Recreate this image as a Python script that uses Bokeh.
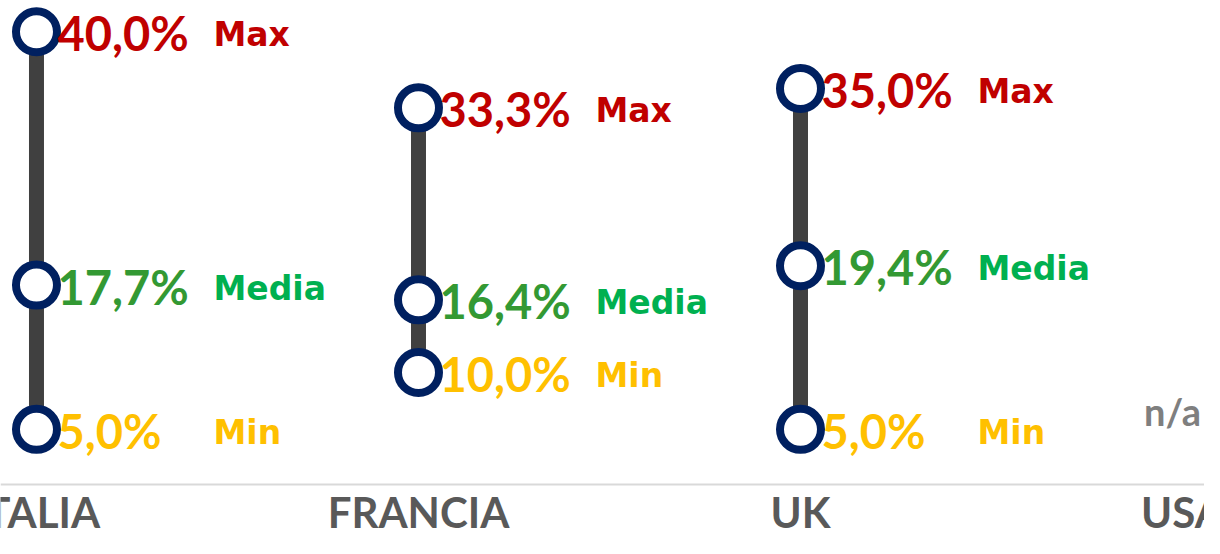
from bokeh.plotting import figure
from bokeh.models import ColumnDataSource, Range1d, Span
from bokeh.core.properties import value
from bokeh.embed import file_html
from bokeh.resources import INLINE

# ---- data ----
categories = ["ITALIA", "FRANCIA", "UK", "USA"]
max_vals = [40.0, 33.3, 35.0, None]
mean_vals = [17.7, 16.4, 19.4, None]
min_vals = [5.0, 10.0, 5.0, None]
series_names = ["Max", "Media", "Min"]
na_label = "n/a"

# ---- styles ----
NAVY = "#002060"
WHISKER = "#404040"
RED = "#C00000"
GREEN_VAL = "#339933"
GREEN_LBL = "#00B050"
YELLOW = "#FFC000"
CAT_COL = "#595959"
NA_COL = "#7F7F7F"
NUM_FONT = value("Lato")
LBL_FONT = value("DejaVu Sans")

W, H = 1204, 538
x_pos = list(range(len(categories)))

p = figure(width=W, height=H, output_backend="svg", toolbar_location=None,
           x_range=Range1d(-0.0942, 3.0576), y_range=Range1d(-4.61, 42.75),
           min_border=0, outline_line_color=None)
p.axis.visible = False
p.grid.visible = False
p.background_fill_color = "white"
p.border_fill_color = "white"

# baseline
p.add_layout(Span(location=0.14, dimension="width", line_color="#D9D9D9", line_width=2))

def fmt(v):
    return f"{v:.1f}".replace(".", ",") + "%"

# whiskers
wx, wlo, whi = [], [], []
for i, (lo, hi) in enumerate(zip(min_vals, max_vals)):
    if lo is not None and hi is not None:
        wx.append(i); wlo.append(lo); whi.append(hi)
p.segment(x0=wx, y0=wlo, x1=wx, y1=whi, line_color=WHISKER, line_width=15)

series = [(max_vals, series_names[0], RED, RED),
          (mean_vals, series_names[1], GREEN_VAL, GREEN_LBL),
          (min_vals, series_names[2], YELLOW, YELLOW)]

for vals, name, vcol, lcol in series:
    xs = [i for i, v in enumerate(vals) if v is not None]
    ys = [v for v in vals if v is not None]
    src = ColumnDataSource(dict(x=xs, y=ys, t=[fmt(v) for v in ys],
                                n=[name] * len(xs)))
    p.scatter("x", "y", source=src, marker="circle", size=41,
              fill_color="white", line_color=NAVY, line_width=8)
    p.text("x", "y", text="t", source=src, x_offset=21, y_offset=1.5,
           text_align="left", text_baseline="middle",
           text_font=NUM_FONT, text_font_style="bold",
           text_font_size="47px", text_color=vcol)
    p.text("x", "y", text="n", source=src, x_offset=177, y_offset=3,
           text_align="left", text_baseline="middle",
           text_font=LBL_FONT, text_font_style="bold",
           text_font_size="33px", text_color=lcol)

# n/a labels
na_x = [i for i, v in enumerate(max_vals) if v is None]
p.text(x=na_x, y=[6.65] * len(na_x), text=[na_label] * len(na_x), x_offset=-10,
       text_align="center", text_baseline="middle",
       text_font=NUM_FONT, text_font_style="bold",
       text_font_size="38px", text_color=NA_COL)

# category labels
p.text(x=x_pos, y=[-2.24] * len(x_pos), text=categories,
       text_align="center", text_baseline="middle",
       text_font=NUM_FONT, text_font_style="bold",
       text_font_size="42px", text_color=CAT_COL)

open("out.html", "w").write(file_html(p, INLINE))
